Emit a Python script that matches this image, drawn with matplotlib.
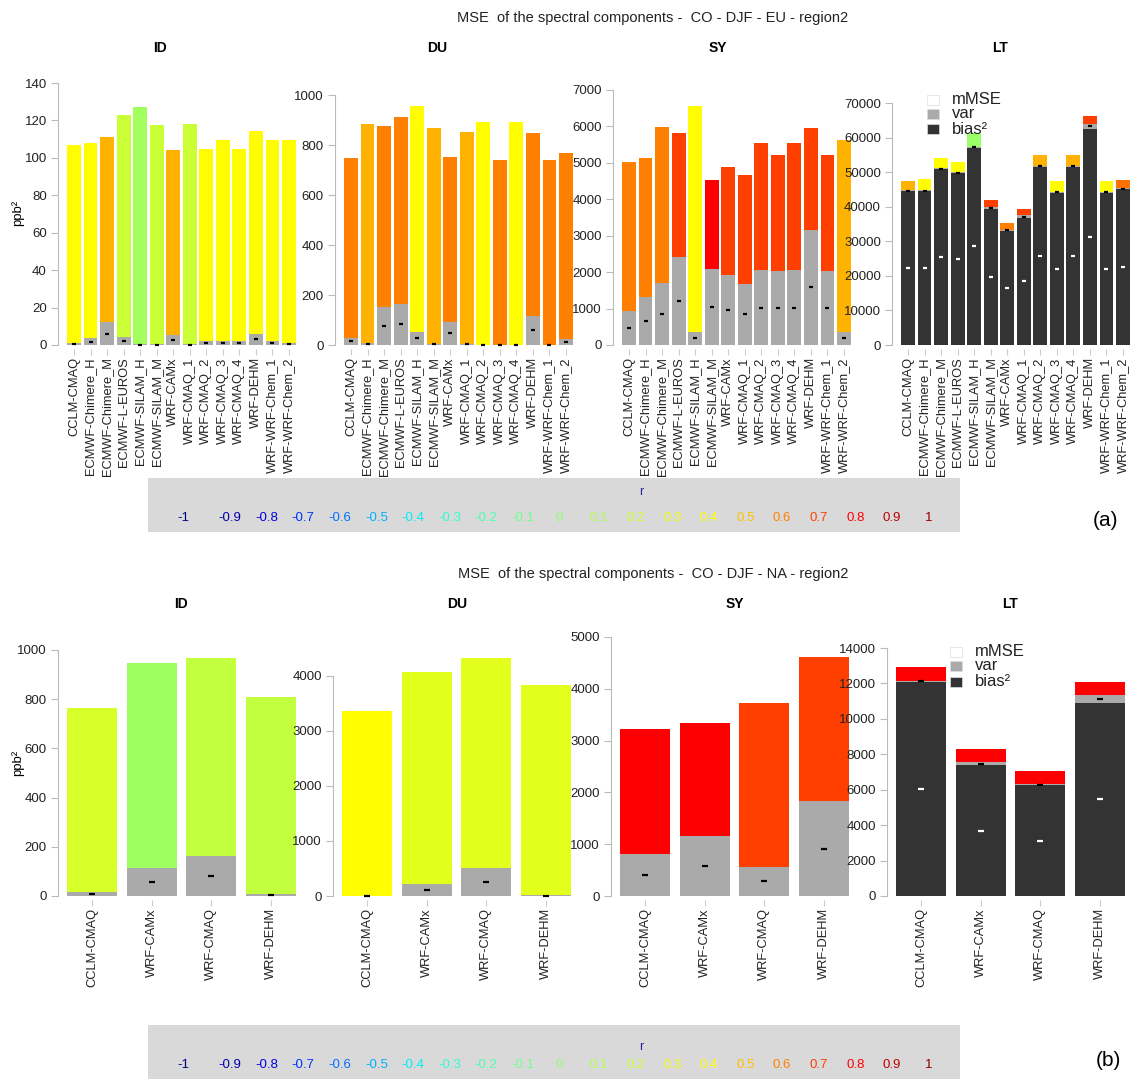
import numpy as np
import matplotlib.pyplot as plt
from matplotlib.colors import LinearSegmentedColormap
from matplotlib.patches import Rectangle

plt.rcParams['font.family'] = ['Liberation Sans', 'DejaVu Sans']

# colour scale of the correlation r
r_levels = [-1, -0.9, -0.8, -0.7, -0.6, -0.5, -0.4, -0.3, -0.2, -0.1, 0,
            0.1, 0.2, 0.3, 0.4, 0.5, 0.6, 0.7, 0.8, 0.9, 1]
r_colors = ['#000080', '#0000B0', '#0000E0', '#0030FF', '#0070FF', '#00B0FF',
            '#00F0F0', '#30FFD0', '#50FFB0', '#70FF90', '#90FF70', '#B0FF50',
            '#D0FF30', '#EEFF10', '#FFFF00', '#FFC000', '#FF8000', '#FF4000',
            '#FF0000', '#C00000', '#900000']
cmap = LinearSegmentedColormap.from_list(
    'r', list(zip((np.array(r_levels) + 1) / 2, r_colors)))

models_eu = ['CCLM-CMAQ', 'ECMWF-Chimere_H', 'ECMWF-Chimere_M', 'ECMWF-L-EUROS',
             'ECMWF-SILAM_H', 'ECMWF-SILAM_M', 'WRF-CAMx', 'WRF-CMAQ_1',
             'WRF-CMAQ_2', 'WRF-CMAQ_3', 'WRF-CMAQ_4', 'WRF-DEHM',
             'WRF-WRF-Chem_1', 'WRF-WRF-Chem_2']
models_na = ['CCLM-CMAQ', 'WRF-CAMx', 'WRF-CMAQ', 'WRF-DEHM']

# (a) EU
eu_id_bias = [0.1, 0.1, 0.1, 0.1, 0.1, 0.1, 0.1, 0.1, 0.1, 0.1, 0.1, 0.1, 0.1, 0.1]
eu_id_var = [0.8, 3.5, 12, 4, 0.3, 0.3, 5, 0.3, 2, 2, 2, 6, 2, 0.8]
eu_id_mmse = [106.1, 104.4, 98.9, 118.9, 126.6, 117.1, 98.9, 117.6, 102.9, 107.4,
              102.9, 108.4, 107.4, 108.6]
eu_id_r = [0.4, 0.4, 0.52, 0.18, 0.06, 0.18, 0.52, 0.18, 0.4, 0.4, 0.4, 0.4, 0.4, 0.4]

eu_du_bias = [1, 1, 1, 1, 1, 1, 1, 1, 1, 1, 1, 1, 1, 1]
eu_du_var = [27, 7, 153, 164, 53, 4, 93, 3, 0.5, 0.5, 0.5, 117, 0.5, 23]
eu_du_mmse = [719, 875, 722, 746, 903, 862, 657, 848, 891.5, 738.5, 891.5, 729,
              738.5, 743]
eu_du_r = [0.6, 0.52, 0.6, 0.6, 0.4, 0.52, 0.6, 0.52, 0.4, 0.6, 0.4, 0.6, 0.6, 0.6]

eu_sy_bias = [5, 5, 5, 5, 5, 5, 5, 5, 5, 5, 5, 5, 5, 5]
eu_sy_var = [933, 1299, 1693, 2397, 348, 2086, 1921, 1665, 2040, 2031, 2040, 3156,
             2031, 357]
eu_sy_mmse = [4094, 3819, 4295, 3426, 6216, 2438, 2951, 2996, 3508, 3170, 3508,
              2804, 3170, 5265]
eu_sy_r = [0.6, 0.6, 0.6, 0.7, 0.4, 0.8, 0.7, 0.7, 0.7, 0.7, 0.7, 0.7, 0.7, 0.52]

eu_lt_bias = [44500, 44500, 50800, 49700, 57000, 39400, 33000, 36800, 51500, 44100,
              51500, 62500, 44100, 45000]
eu_lt_var = [300, 300, 300, 300, 300, 500, 300, 700, 300, 200, 300, 1500, 200, 300]
eu_lt_mmse = [2670, 3150, 3110, 2960, 4030, 1980, 2130, 1780, 3080, 3170, 3080,
              2150, 3170, 2360]
eu_lt_r = [0.52, 0.4, 0.4, 0.4, 0.03, 0.7, 0.6, 0.7, 0.52, 0.4, 0.52, 0.7, 0.4, 0.62]

# (b) NA
na_id_bias = [1, 1, 1, 1]
na_id_var = [14, 111, 162, 6]
na_id_mmse = [750, 834, 806, 801]
na_id_r = [0.22, 0.05, 0.15, 0.15]

na_du_bias = [2, 2, 2, 2]
na_du_var = [3, 218, 515, 10]
na_du_mmse = [3365, 3859, 3816, 3824]
na_du_r = [0.4, 0.26, 0.26, 0.26]

na_sy_bias = [5, 5, 5, 5]
na_sy_var = [812, 1147, 554, 1823]
na_sy_mmse = [2405, 2186, 3165, 2779]
na_sy_r = [0.8, 0.8, 0.7, 0.7]

na_lt_bias = [12100, 7380, 6260, 10900]
na_lt_var = [60, 190, 60, 450]
na_lt_mmse = [762, 754, 737, 720]
na_lt_r = [0.8, 0.8, 0.8, 0.8]

W, H = 1132, 1088
fig = plt.figure(figsize=(W / 100, H / 100), dpi=100)


def panel(left, bottom, top, names, bias, var, mmse, r, ylim, yticks):
    ax = fig.add_axes([left / W, 1 - bottom / H, 247 / W, (bottom - top) / H])
    ax.set_facecolor('none')
    n = len(names)
    x = 0.7 + 1.2 * np.arange(n)
    bias = np.array(bias, dtype=float)
    var = np.array(var, dtype=float)
    ax.bar(x, bias, 1.0, color='#333333', linewidth=0)
    ax.bar(x, var, 1.0, bottom=bias, color='#AAAAAA', linewidth=0)
    ax.bar(x, mmse, 1.0, bottom=bias + var,
           color=[cmap((v + 1) / 2) for v in r], linewidth=0)
    ms = 3.5 if n > 5 else 4
    big = bias > 0.02 * ylim[1]
    ax.plot(x[big], bias[big] / 2, ls='none', marker='_', ms=ms, mew=1.6,
            color='white')
    ax.plot(x, bias + var / 2, ls='none', marker='_', ms=ms, mew=1.6, color='black')
    pad = 0.04 * (1.2 * n - 0.2)
    ax.set_xlim(0.2 - pad, 1.2 * n + pad)
    ax.set_ylim(ylim)
    ax.set_yticks(yticks)
    ax.set_xticks(x)
    ax.set_xticklabels(names, rotation=90)
    for s in ['top', 'right', 'bottom']:
        ax.spines[s].set_visible(False)
    ax.spines['left'].set_color('#BBBBBB')
    ax.spines['left'].set_bounds(0, yticks[-1])
    ax.tick_params(axis='y', color='#BBBBBB', length=5, labelsize=9.5,
                   labelcolor='#222222', pad=3)
    ax.tick_params(axis='x', color='#CCCCCC', length=4, labelsize=9.3,
                   labelcolor='#222222', pad=2)
    return ax


# top row (a)
panel(58, 349, 78, models_eu, eu_id_bias, eu_id_var, eu_id_mmse, eu_id_r,
      (-2.14, 142.7), range(0, 141, 20))
panel(335, 349, 78, models_eu, eu_du_bias, eu_du_var, eu_du_mmse, eu_du_r,
      (-16, 1068), range(0, 1001, 200))
panel(613, 349, 78, models_eu, eu_sy_bias, eu_sy_var, eu_sy_mmse, eu_sy_r,
      (-110, 7329), range(0, 7001, 1000))
panel(892, 349, 78, models_eu, eu_lt_bias, eu_lt_var, eu_lt_mmse, eu_lt_r,
      (-1157, 77235), range(0, 70001, 10000))

# bottom row (b)
panel(58, 900, 630, models_na, na_id_bias, na_id_var, na_id_mmse, na_id_r,
      (-16.3, 1081), range(0, 1001, 200))
panel(333, 900, 630, models_na, na_du_bias, na_du_var, na_du_mmse, na_du_r,
      (-72.7, 4836), range(0, 4001, 1000))
panel(611, 900, 630, models_na, na_sy_bias, na_sy_var, na_sy_mmse, na_sy_r,
      (-77, 5135), range(0, 5001, 1000))
panel(887, 900, 630, models_na, na_lt_bias, na_lt_var, na_lt_mmse, na_lt_r,
      (-226, 15020), range(0, 14001, 2000))


def ftext(x, y, s, **kw):
    fig.text(x / W, 1 - y / H, s, **kw)


ftext(653, 18, 'MSE  of the spectral components -  CO - DJF - EU - region2',
      ha='center', va='center', fontsize=10.5, color='#222222')
ftext(653, 574, 'MSE  of the spectral components -  CO - DJF - NA - region2',
      ha='center', va='center', fontsize=10.5, color='#222222')

for xp, t in zip([160, 437, 718, 1000], ['ID', 'DU', 'SY', 'LT']):
    ftext(xp, 48, t, ha='center', va='center', fontsize=10, fontweight='bold')
for xp, t in zip([181, 457, 735, 1010], ['ID', 'DU', 'SY', 'LT']):
    ftext(xp, 604, t, ha='center', va='center', fontsize=10, fontweight='bold')

ftext(18, 213, 'ppb²', rotation=90, ha='center', va='center', fontsize=9.5)
ftext(18, 763, 'ppb²', rotation=90, ha='center', va='center', fontsize=9.5)


def comp_legend(x0, ys):
    fills = ['white', '#AAAAAA', '#333333']
    for yc, c, lab in zip(ys, fills, ['mMSE', 'var', 'bias²']):
        fig.add_artist(Rectangle((x0 / W, 1 - (yc + 5) / H), 12 / W, 10 / H,
                                 transform=fig.transFigure, facecolor=c,
                                 edgecolor='#DDDDDD', linewidth=0.5))
        ftext(x0 + 25, yc, lab, ha='left', va='center', fontsize=12,
              color='#222222')


comp_legend(927, [100, 114, 129])
comp_legend(950, [652, 666, 682])


def r_legend(top, bottom, ry, ny):
    fig.add_artist(Rectangle((148 / W, 1 - bottom / H), 812 / W, (bottom - top) / H,
                             transform=fig.transFigure, facecolor='#D9D9D9',
                             edgecolor='none'))
    ftext(641, ry, 'r', ha='center', va='center', fontsize=9, color='#22229A')
    for k, (v, c) in enumerate(zip(r_levels, r_colors)):
        if k == 0:
            xp = 183
        else:
            xp = 230 + 36.6 * (k - 1) + (3 if k > 10 else 0)
        ftext(xp, ny, f'{v:g}', ha='center', va='center', fontsize=9.5, color=c)


r_legend(478, 532, 492, 518)
r_legend(1025, 1079, 1047, 1065)

ftext(1106, 521, '(a)', ha='center', va='center', fontsize=15)
ftext(1108, 1060, '(b)', ha='center', va='center', fontsize=15)

fig.savefig('out.png', dpi=100)
